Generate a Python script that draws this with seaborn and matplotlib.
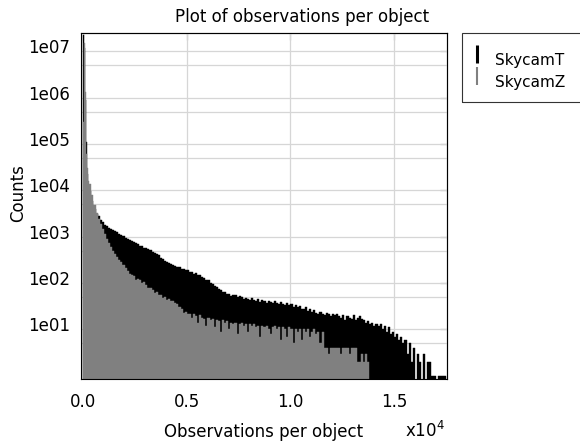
import numpy as np
import pandas as pd
import seaborn as sns
import matplotlib
matplotlib.use("Agg")
import matplotlib.pyplot as plt
from matplotlib.lines import Line2D
from matplotlib.patches import Rectangle
from matplotlib.path import Path
from matplotlib.ticker import FixedLocator, NullFormatter, NullLocator
from matplotlib.transforms import ScaledTranslation

# Histogram bins: fine bins near zero, then 100-observation bins
FINE_EDGES = [0, 50, 100, 150, 200, 250]
COARSE_START, COARSE_STOP, COARSE_STEP = 300, 17500, 100
BIN_EDGES = np.concatenate([FINE_EDGES, np.arange(COARSE_START, COARSE_STOP + 1, COARSE_STEP)])

SERIES = ["SkycamT", "SkycamZ"]

# Number of objects per bin of "observations per object"
SKYCAM_T = [
    23000000, 12000000, 900000, 110000, 23000, 11000,
    9500, 6000, 4000, 3150, 2750, 2280, 2080, 1830, 1720, 1560,
    1490, 1410, 1320, 1260, 1170, 1090, 1040, 955, 915, 850,
    820, 765, 720, 695, 645, 620, 585, 565, 535, 510,
    480, 455, 420, 395, 355, 335, 300, 292, 268, 260,
    242, 238, 220, 217, 202, 203, 188, 190, 176, 172,
    160, 163, 146, 150, 132, 130, 116, 114, 100, 97,
    86, 84, 74, 72, 65, 63, 58, 57, 53, 54,
    54, 49, 52, 50, 45, 48, 46, 43, 47, 44,
    42, 45, 40, 43, 41, 38, 42, 39, 37, 41,
    38, 36, 40, 35, 33, 37, 34, 36, 31, 33,
    30, 32, 28, 27, 30, 25, 27, 24, 26, 23,
    22, 24, 21, 20, 23, 21, 19, 22, 20, 21,
    19, 18, 20, 16, 19, 18, 17, 20, 16, 18,
    19, 17, 16, 14, 15, 13, 14, 12, 13, 12,
    13, 10, 12, 9, 11, 8, 9, 7, 8, 6,
    7, 5, 6, 3, 5, 2, 4, 0, 3, 2,
    0, 3, 0, 2, 2, 1, 1, 0, 1, 1,
    1, 1,
]

SKYCAM_Z = [
    300000, 15000000, 1300000, 60000, 30000, 16000,
    14000, 8000, 4800, 3300, 2400, 1900, 1500, 1150, 900, 720,
    600, 500, 430, 370, 320, 280, 245, 215, 185, 160,
    150, 140, 118, 124, 116, 102, 104, 92, 80, 78,
    70, 62, 64, 54, 55, 48, 50, 44, 46, 41,
    42, 38, 36, 31, 27, 23, 24, 21, 22, 18,
    21, 19, 14, 20, 18, 17, 12, 18, 16, 17,
    11, 16, 15, 9, 16, 14, 15, 10, 14, 13,
    14, 8, 13, 14, 12, 13, 9, 13, 12, 13,
    11, 12, 7, 12, 11, 12, 10, 8, 11, 12,
    10, 11, 6, 11, 10, 7, 11, 10, 5, 10,
    9, 10, 6, 10, 9, 10, 7, 9, 10, 8,
    9, 5, 9, 4, 4, 3, 4, 4, 4, 4,
    4, 3, 4, 4, 4, 3, 4, 4, 4, 2,
    2, 3, 2, 3, 2, 0, 0, 0, 0, 0,
    0, 0, 0, 0, 0, 0, 0, 0, 0, 0,
    0, 0, 0, 0, 0, 0, 0, 0, 0, 0,
    0, 0, 0, 0, 0, 0, 0, 0, 0, 0,
    0, 0,
]

XTICKS = [0, 5000, 10000, 15000]
XTICK_LABELS = ["0.0", "0.5", "1.0", "1.5"]
YTICKS = [1e1, 1e2, 1e3, 1e4, 1e5, 1e6, 1e7]
YTICK_LABELS = ["1e01", "1e02", "1e03", "1e04", "1e05", "1e06", "1e07"]
YMINOR = [5e0, 5e1, 5e2, 5e3, 5e4, 5e5, 5e6]

COLORS = {"SkycamT": "#000000", "SkycamZ": "#808080"}

sns.set_style("white")
plt.rcParams["font.family"] = ["DejaVu Sans"]

centers = (BIN_EDGES[:-1] + BIN_EDGES[1:]) / 2
df = pd.DataFrame({"obs": centers, "SkycamT": SKYCAM_T, "SkycamZ": SKYCAM_Z})

W, H = 580, 446
fig = plt.figure(figsize=(W / 100, H / 100), dpi=100)
ax = fig.add_axes([81 / W, (H - 379) / H, 366 / W, 346 / H])

for name in SERIES:
    sns.histplot(data=df, x="obs", weights=name, bins=list(BIN_EDGES), ax=ax,
                 color=COLORS[name], alpha=1, edgecolor=COLORS[name],
                 linewidth=0.3, element="bars")

ax.set_yscale("log")
ax.set_xlim(-100, 17550)
ax.set_ylim(0.85, 2.5e7)
ax.set_xlabel("")
ax.set_ylabel("")

ax.set_xticks(XTICKS)
ax.set_xticklabels(XTICK_LABELS)
ax.set_yticks(YTICKS)
ax.set_yticklabels(YTICK_LABELS)
ax.xaxis.set_minor_locator(NullLocator())
ax.yaxis.set_minor_locator(FixedLocator(YMINOR))
ax.yaxis.set_minor_formatter(NullFormatter())

ax.tick_params(axis="both", which="major", direction="out", length=3, width=0.8,
               labelsize=12, colors="black", top=False, right=False)
ax.tick_params(axis="x", which="major", pad=7)
ax.tick_params(axis="y", which="major", pad=5)
ax.tick_params(axis="y", which="minor", length=0)

ax.set_axisbelow(True)
ax.grid(True, which="major", color="#d6d6d6", linewidth=0.9)
ax.grid(True, which="minor", axis="y", color="#d6d6d6", linewidth=0.9)

for sp in ax.spines.values():
    sp.set_visible(True)
    sp.set_color("black")
    sp.set_linewidth(0.8)

# Inward ticks along the top and right edges of the box
top = ax.secondary_xaxis("top")
top.set_xticks(XTICKS)
top.xaxis.set_minor_locator(NullLocator())
top.tick_params(direction="in", length=5, width=0.8, labeltop=False)
right = ax.secondary_yaxis("right")
right.set_yticks(YTICKS)
right.yaxis.set_minor_locator(NullLocator())
right.tick_params(direction="in", length=5, width=0.8, labelright=False)
right.tick_params(which="minor", length=0)

# Lift the y tick labels a little above their ticks
lift = ScaledTranslation(0, 0.05, fig.dpi_scale_trans)
for lab in ax.get_yticklabels():
    lab.set_transform(lab.get_transform() + lift)

fig.text(302 / W, 1 - 17 / H, "Plot of observations per object",
         ha="center", va="center", fontsize=12, color="black")
fig.text(264 / W, 1 - 437 / H, "Observations per object",
         ha="center", va="baseline", fontsize=12, color="black")
fig.text(405 / W, 1 - 437 / H, r"x10$^{4}$",
         ha="left", va="baseline", fontsize=12, color="black")
fig.text(18 / W, 1 - 193 / H, "Counts", rotation=90,
         ha="center", va="center", fontsize=12, color="black")

# Legend: short vertical bars sitting slightly above the label centre
bar_marker = Path([(0, -0.2), (0, 1.0)], [Path.MOVETO, Path.LINETO])
handles = [
    Line2D([], [], color=COLORS["SkycamT"], marker=bar_marker, linestyle="None",
           markersize=21.6, markeredgewidth=2.2),
    Line2D([], [], color=COLORS["SkycamZ"], marker=bar_marker, linestyle="None",
           markersize=21.6, markeredgewidth=1.5),
]
leg = fig.legend(handles, SERIES, loc="upper left",
                 bbox_to_anchor=(473.5 / W, 1 - 53 / H), frameon=False,
                 fontsize=11, borderpad=0, labelspacing=0.46,
                 handlelength=0.46, handletextpad=0.95, borderaxespad=0)
for t in leg.get_texts():
    t.set_color("black")
fig.patches.append(Rectangle((462 / W, 1 - 102 / H), (W - 462 + 10) / W, 69 / H,
                             transform=fig.transFigure, fill=False,
                             edgecolor="#333333", linewidth=0.8))

fig.savefig("out.png", dpi=100)
